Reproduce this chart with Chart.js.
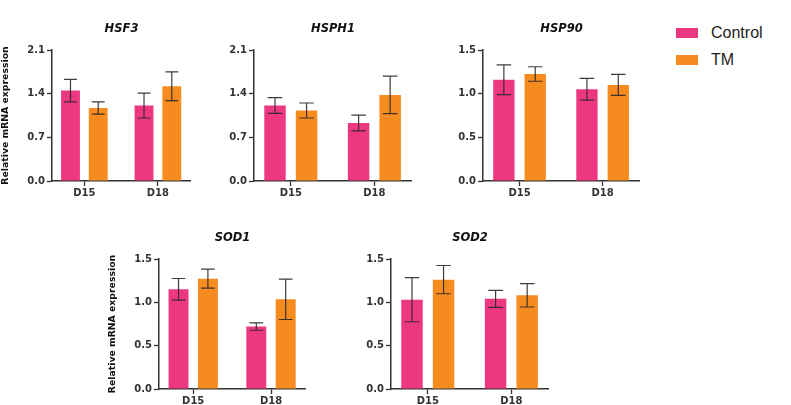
<!DOCTYPE html>
<html>
<head>
<meta charset="utf-8">
<script src="https://cdn.jsdelivr.net/npm/chart.js@4.4.1/dist/chart.umd.min.js"></script>
<style>
  body { margin: 0; background: #fff; width: 791px; height: 405px; position: relative; overflow: hidden; }
  canvas { position: absolute; }
  .leg { position: absolute; font-family: "Liberation Sans", Arial, sans-serif; font-size: 16px; color: #222; line-height: 16px; }
  .sw { position: absolute; width: 22px; height: 10px; }
</style>
</head>
<body>
<div id="legend"></div>
<script>
// datos
const genes = ['HSF3', 'HSPH1', 'HSP90', 'SOD1', 'SOD2'];
const grupos = ['D15', 'D18'];
const series = ['Control', 'TM'];
const coloresSerie = ['#EE3781', '#F68B1F'];

// media y error por gen, [D15, D18]
const controlMedia = [[1.45, 1.21], [1.21, 0.93], [1.16, 1.05], [1.15, 0.72], [1.03, 1.04]];
const controlError = [[0.18, 0.20], [0.125, 0.125], [0.17, 0.125], [0.125, 0.042], [0.254, 0.098]];
const tmMedia = [[1.17, 1.52], [1.13, 1.38], [1.225, 1.10], [1.273, 1.035], [1.262, 1.081]];
const tmError = [[0.097, 0.23], [0.12, 0.30], [0.083, 0.12], [0.11, 0.233], [0.163, 0.135]];

const yMaximo = [2.1, 2.1, 1.5, 1.5, 1.5];
const yPaso = [0.7, 0.7, 0.5, 0.5, 0.5];

// posición de cada panel en la página (eje y, arriba, abajo, fin del eje x)
const paneles = [
    { ejeX: 52, arriba: 50, abajo: 181, fin: 191, tituloY: true },
    { ejeX: 254, arriba: 50, abajo: 181, fin: 412, tituloY: false },
    { ejeX: 483, arriba: 50, abajo: 181, fin: 640, tituloY: false },
    { ejeX: 159, arriba: 259, abajo: 389, fin: 306, tituloY: true },
    { ejeX: 391, arriba: 259, abajo: 389, fin: 549, tituloY: false }
];

const ANCHO_Y = 52;
const ALTO_TITULO = 30;
const ALTO_X = 22;
const fuente = '"DejaVu Sans", Verdana, sans-serif';
const gris = '#333';

const barrasError = {
    id: 'barrasError',
    afterDatasetsDraw(chart) {
        const ctx = chart.ctx;
        const y = chart.scales.y;
        ctx.save();
        ctx.strokeStyle = 'rgba(40,40,40,0.9)';
        ctx.lineWidth = 1.2;
        chart.data.datasets.forEach((ds, i) => {
            const meta = chart.getDatasetMeta(i);
            meta.data.forEach((barra, j) => {
                const m = ds.data[j].y;
                const e = ds.errores[j];
                const yA = y.getPixelForValue(m + e);
                const yB = y.getPixelForValue(m - e);
                const medio = barra.width * 0.34;
                ctx.beginPath();
                ctx.moveTo(barra.x, yA);
                ctx.lineTo(barra.x, yB);
                ctx.moveTo(barra.x - medio, yA);
                ctx.lineTo(barra.x + medio, yA);
                ctx.moveTo(barra.x - medio, yB);
                ctx.lineTo(barra.x + medio, yB);
                ctx.stroke();
            });
        });
        ctx.restore();
    }
};

function crearPanel(k) {
    const p = paneles[k];
    const canvas = document.createElement('canvas');
    const w = ANCHO_Y + (p.fin - p.ejeX);
    const h = ALTO_TITULO + (p.abajo - p.arriba) + ALTO_X;
    canvas.width = w;
    canvas.height = h;
    canvas.style.left = (p.ejeX - ANCHO_Y) + 'px';
    canvas.style.top = (p.arriba - ALTO_TITULO) + 'px';
    canvas.style.width = w + 'px';
    canvas.style.height = h + 'px';
    document.body.appendChild(canvas);

    const medias = [controlMedia[k], tmMedia[k]];
    const errores = [controlError[k], tmError[k]];

    new Chart(canvas.getContext('2d'), {
        type: 'bar',
        data: {
            datasets: series.map((s, i) => ({
                label: s,
                data: grupos.map((g, j) => ({ x: j, y: medias[i][j] })),
                errores: errores[i],
                backgroundColor: coloresSerie[i],
                borderWidth: 0,
                barPercentage: 0.68,
                categoryPercentage: 0.755
            }))
        },
        options: {
            responsive: false,
            animation: false,
            devicePixelRatio: 1,
            layout: { padding: 0 },
            plugins: {
                legend: { display: false },
                tooltip: { enabled: false },
                title: {
                    display: true,
                    text: genes[k],
                    fullSize: false,
                    color: '#111',
                    font: { family: fuente, size: 11.5, weight: 'bold', style: 'italic' },
                    padding: { top: 2, bottom: 14.2 }
                }
            },
            scales: {
                x: {
                    type: 'linear',
                    min: -0.44,
                    max: 1.45,
                    offset: false,
                    afterBuildTicks: (escala) => {
                        escala.ticks = grupos.map((g, j) => ({ value: j }));
                    },
                    afterFit: (escala) => { escala.height = ALTO_X; },
                    grid: { offset: false, drawOnChartArea: false, drawTicks: true, tickLength: 5, color: gris, tickWidth: 1.3 },
                    border: { color: gris, width: 1.5 },
                    ticks: {
                        autoSkip: false,
                        maxRotation: 0,
                        padding: 1,
                        color: '#333',
                        font: { family: fuente, size: 10, weight: 'bold' },
                        callback: (v, i) => grupos[i]
                    }
                },
                y: {
                    min: 0,
                    max: yMaximo[k],
                    afterFit: (escala) => { escala.width = ANCHO_Y; },
                    grid: { drawOnChartArea: false, drawTicks: true, tickLength: 5, color: gris, tickWidth: 1.3 },
                    border: { color: gris, width: 1.5 },
                    ticks: {
                        stepSize: yPaso[k],
                        padding: 2,
                        color: '#333',
                        font: { family: fuente, size: 10, weight: 'bold' },
                        callback: (v) => v.toFixed(1)
                    },
                    title: {
                        display: p.tituloY,
                        text: 'Relative mRNA expression',
                        color: '#111',
                        padding: 0,
                        font: { family: fuente, size: 9.3, weight: 'bold' }
                    }
                }
            }
        },
        plugins: [barrasError]
    });
}

paneles.forEach((p, k) => crearPanel(k));

// leyenda
const leyenda = document.getElementById('legend');
series.forEach((s, i) => {
    const cy = i === 0 ? 32.5 : 60;
    const sw = document.createElement('div');
    sw.className = 'sw';
    sw.style.left = '676px';
    sw.style.top = (cy - 5) + 'px';
    sw.style.background = coloresSerie[i];
    leyenda.appendChild(sw);
    const t = document.createElement('div');
    t.className = 'leg';
    t.style.left = '711px';
    t.style.top = (cy - 8) + 'px';
    t.textContent = s;
    leyenda.appendChild(t);
});
</script>
</body>
</html>
